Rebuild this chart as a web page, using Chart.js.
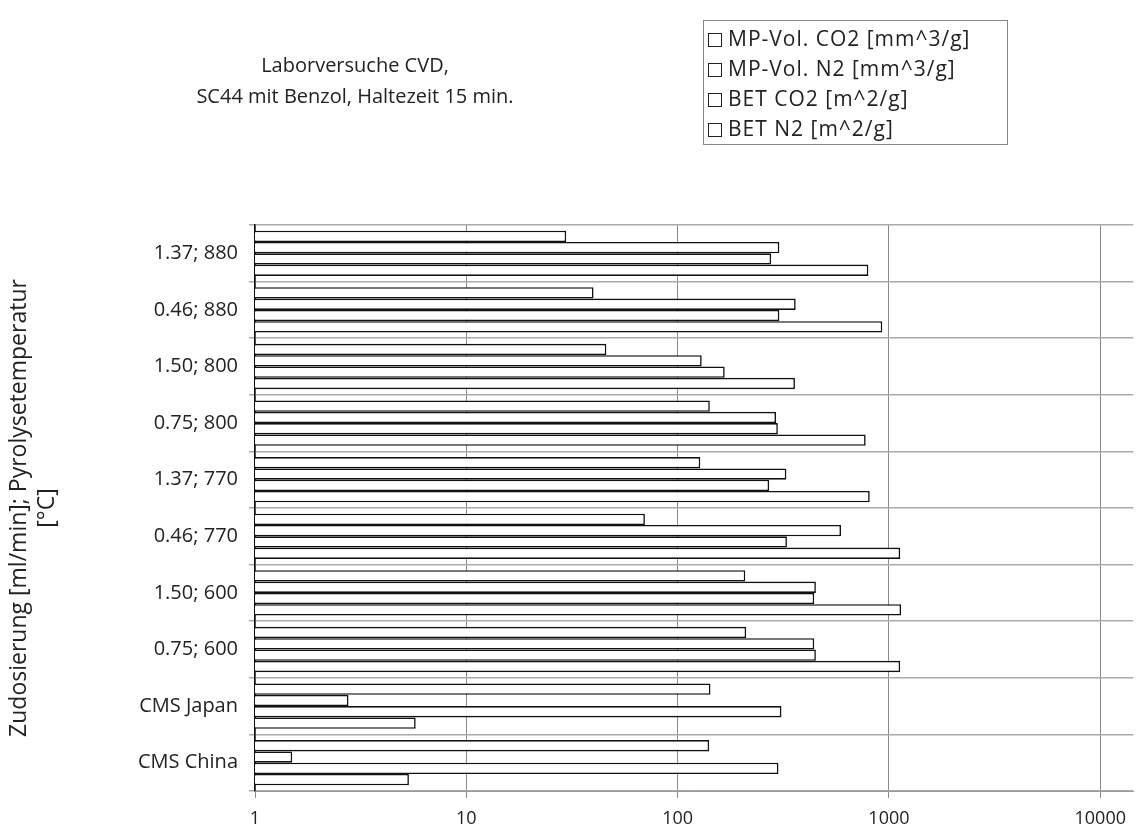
<!DOCTYPE html>
<html>
<head>
<meta charset="utf-8">
<script src="https://cdn.jsdelivr.net/npm/chart.js@4/dist/chart.umd.min.js"></script>
<style>
  body { margin: 0; background: #fff; font-family: "Open Sans", sans-serif; color: #222; }
  #wrap { position: relative; width: 1136px; height: 837px; }
  #title { position: absolute; left: 155px; top: 49px; width: 400px; text-align: center; font-size: 20px; line-height: 31px; }
  #legend { position: absolute; left: 703px; top: 20px; width: 305px; height: 125px; border: 1px solid #888; box-sizing: border-box; padding: 2px 0 0 4px; font-size: 21px; line-height: 30px; letter-spacing: 1px; white-space: nowrap; }
  #legend .box { display: inline-block; width: 12px; height: 12px; border: 1.5px solid #222; margin-right: 6px; vertical-align: -1px; }
  canvas { position: absolute; left: 0; top: 0; }
</style>
</head>
<body>
<div id="wrap">
  <canvas id="chart" width="1136" height="837"></canvas>
  <div id="title">Laborversuche CVD,<br>SC44 mit Benzol, Haltezeit 15 min.</div>
  <div id="legend"></div>
</div>
<script>
// categories top to bottom
const categories = ["1.37; 880", "0.46; 880", "1.50; 800", "0.75; 800", "1.37; 770",
                    "0.46; 770", "1.50; 600", "0.75; 600", "CMS Japan", "CMS China"];

const seriesNames = ["MP-Vol. CO2 [mm^3/g]", "MP-Vol. N2 [mm^3/g]", "BET CO2 [m^2/g]", "BET N2 [m^2/g]"];

const mpVolCO2 = [29.7, 40, 46, 142, 128, 70, 209, 211, 143, 141];
const mpVolN2  = [303, 362, 130, 292, 327, 593, 451, 443, 2.77, 1.5];
const betCO2   = [277, 303, 167, 298, 271, 329, 443, 451, 310, 300];
const betN2    = [799, 930, 359, 776, 811, 1130, 1141, 1130, 5.76, 5.35];

const xTicks = [1, 10, 100, 1000, 10000];

// legend as html
const legend = document.getElementById("legend");
seriesNames.forEach(name => {
  const d = document.createElement("div");
  d.innerHTML = '<span class="box"></span>' + name;
  legend.appendChild(d);
});

const allSeries = [mpVolCO2, mpVolN2, betCO2, betN2];

const ctx = document.getElementById("chart").getContext("2d");
new Chart(ctx, {
  type: "bar",
  data: {
    labels: categories,
    datasets: allSeries.map((vals, i) => ({
      label: seriesNames[i],
      data: vals,
      backgroundColor: "#fff",
      borderColor: "#111",
      borderWidth: 1.6,
      borderSkipped: "start",
      barPercentage: 1.0,
      categoryPercentage: 0.8
    }))
  },
  options: {
    indexAxis: "y",
    responsive: false,
    animation: false,
    devicePixelRatio: 1,
    layout: { padding: { top: 225, left: 0, right: 0, bottom: 0 } },
    plugins: { legend: { display: false }, tooltip: { enabled: false } },
    scales: {
      x: {
        type: "logarithmic",
        min: 1,
        max: 14330,
        afterBuildTicks: scale => { scale.ticks = xTicks.map(v => ({ value: v })); },
        afterFit: scale => { scale.height = 46; },
        grid: { color: "#8a8a8a", lineWidth: 1, tickLength: 7 },
        border: { color: "#999" },
        ticks: {
          color: "#222",
          font: { family: "Open Sans", size: 18 },
          padding: 10,
          maxRotation: 0,
          callback: v => String(v)
        }
      },
      y: {
        afterFit: scale => { scale.width = 255; },
        grid: { color: "#aaa", lineWidth: 1.5, tickLength: 6, offset: true },
        border: { color: "#111", width: 1.5 },
        ticks: {
          color: "#222",
          font: { family: "Open Sans", size: 20 },
          padding: 11
        },
        title: {
          display: true,
          text: ["Zudosierung [ml/min]; Pyrolysetemperatur", "[°C]"],
          color: "#222",
          font: { family: "Open Sans", size: 23, lineHeight: 1.2 },
          padding: { top: 6, bottom: 0 }
        }
      }
    }
  }
});
</script>
</body>
</html>
